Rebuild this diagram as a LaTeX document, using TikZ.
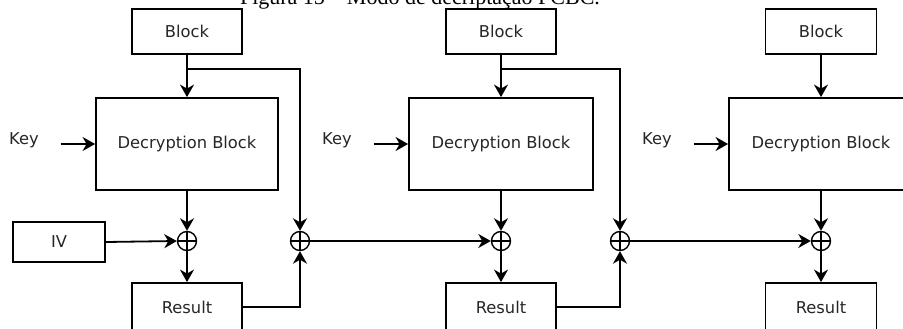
\documentclass[tikz,border=0pt]{standalone}
\usepackage{fontspec}
\setmainfont{DejaVu Sans}
\newfontfamily\capfont{Liberation Serif}
\usetikzlibrary{arrows.meta}
\begin{document}
\begin{tikzpicture}[x=1pt,y=-1pt,
  line width=1.8pt,
  every node/.style={font=\fontsize{16.3}{19}\selectfont, text=black!85},
  box/.style={draw, line width=1.8pt, inner sep=0pt},
  xorop/.style={draw, circle, line width=1.4pt, minimum size=19pt, inner sep=0pt,
    path picture={\draw[line width=1.4pt] (path picture bounding box.north) -- (path picture bounding box.south)
      (path picture bounding box.west) -- (path picture bounding box.east);}},
  arr/.style={-{Stealth[length=12.5pt,width=14pt,inset=4pt]}},
  lbl/.style={inner sep=0pt}
]
\useasboundingbox (0,0) rectangle (903,329);
\clip (0,0) rectangle (903,329);
\fill[white] (0,0) rectangle (903,329);

\node[lbl, anchor=base, font=\capfont\fontsize{22}{26}\selectfont, text=black] (cap) at (420,4.5) {Figura 15 – Modo de decriptação PCBC.};

% column 1
\node[box, minimum width=110pt, minimum height=45pt] (b1) at (187,31.5) {Block};
\node[box, minimum width=182pt, minimum height=92pt] (d1) at (187,144) {Decryption Block};
\node[lbl] (k1) at (24,140) {Key};
\node[box, minimum width=92pt, minimum height=40pt] (iv) at (59,242) {IV};
\node[xorop] (x1) at (187,241) {};
\node[box, minimum width=110pt, minimum height=48pt] (r1) at (187,307) {Result};
\node[xorop] (x2) at (300,241) {};

% column 2
\node[box, minimum width=110pt, minimum height=45pt] (b2) at (501,31.5) {Block};
\node[box, minimum width=184pt, minimum height=92pt] (d2) at (501,144) {Decryption Block};
\node[lbl] (k2) at (337,140) {Key};
\node[xorop] (x3) at (501,241) {};
\node[box, minimum width=110pt, minimum height=48pt] (r2) at (501,307) {Result};
\node[xorop] (x4) at (620,241) {};

% column 3
\node[box, minimum width=111pt, minimum height=45pt] (b3) at (821,31.5) {Block};
\node[box, minimum width=184pt, minimum height=92pt] (d3) at (821,144) {Decryption Block};
\node[lbl] (k3) at (657,140) {Key};
\node[xorop] (x5) at (821,241) {};
\node[box, minimum width=111pt, minimum height=48pt] (r3) at (821,307) {Result};

% connectors column 1
\draw[arr] (b1.south) -- (d1.north);
\draw[arr] (b1.south) -- ++(0,14) -| (x2.north);
\draw[arr] ([xshift=21pt,yshift=-4pt]k1.east) -- (d1.west);
\draw[arr] (d1.south) -- (x1.north);
\draw[arr] (iv.east) -- (x1.west);
\draw[arr] (x1.south) -- (r1.north);
\draw[arr] (r1.east) -| (x2.south);
\draw[arr] (x2.east) -- (x3.west);

% connectors column 2
\draw[arr] (b2.south) -- (d2.north);
\draw[arr] (b2.south) -- ++(0,14) -| (x4.north);
\draw[arr] ([xshift=21pt,yshift=-4pt]k2.east) -- (d2.west);
\draw[arr] (d2.south) -- (x3.north);
\draw[arr] (x3.south) -- (r2.north);
\draw[arr] (r2.east) -| (x4.south);
\draw[arr] (x4.east) -- (x5.west);

% connectors column 3
\draw[arr] (b3.south) -- (d3.north);
\draw[arr] ([xshift=21pt,yshift=-4pt]k3.east) -- (d3.west);
\draw[arr] (d3.south) -- (x5.north);
\draw[arr] (x5.south) -- (r3.north);
\end{tikzpicture}
\end{document}
